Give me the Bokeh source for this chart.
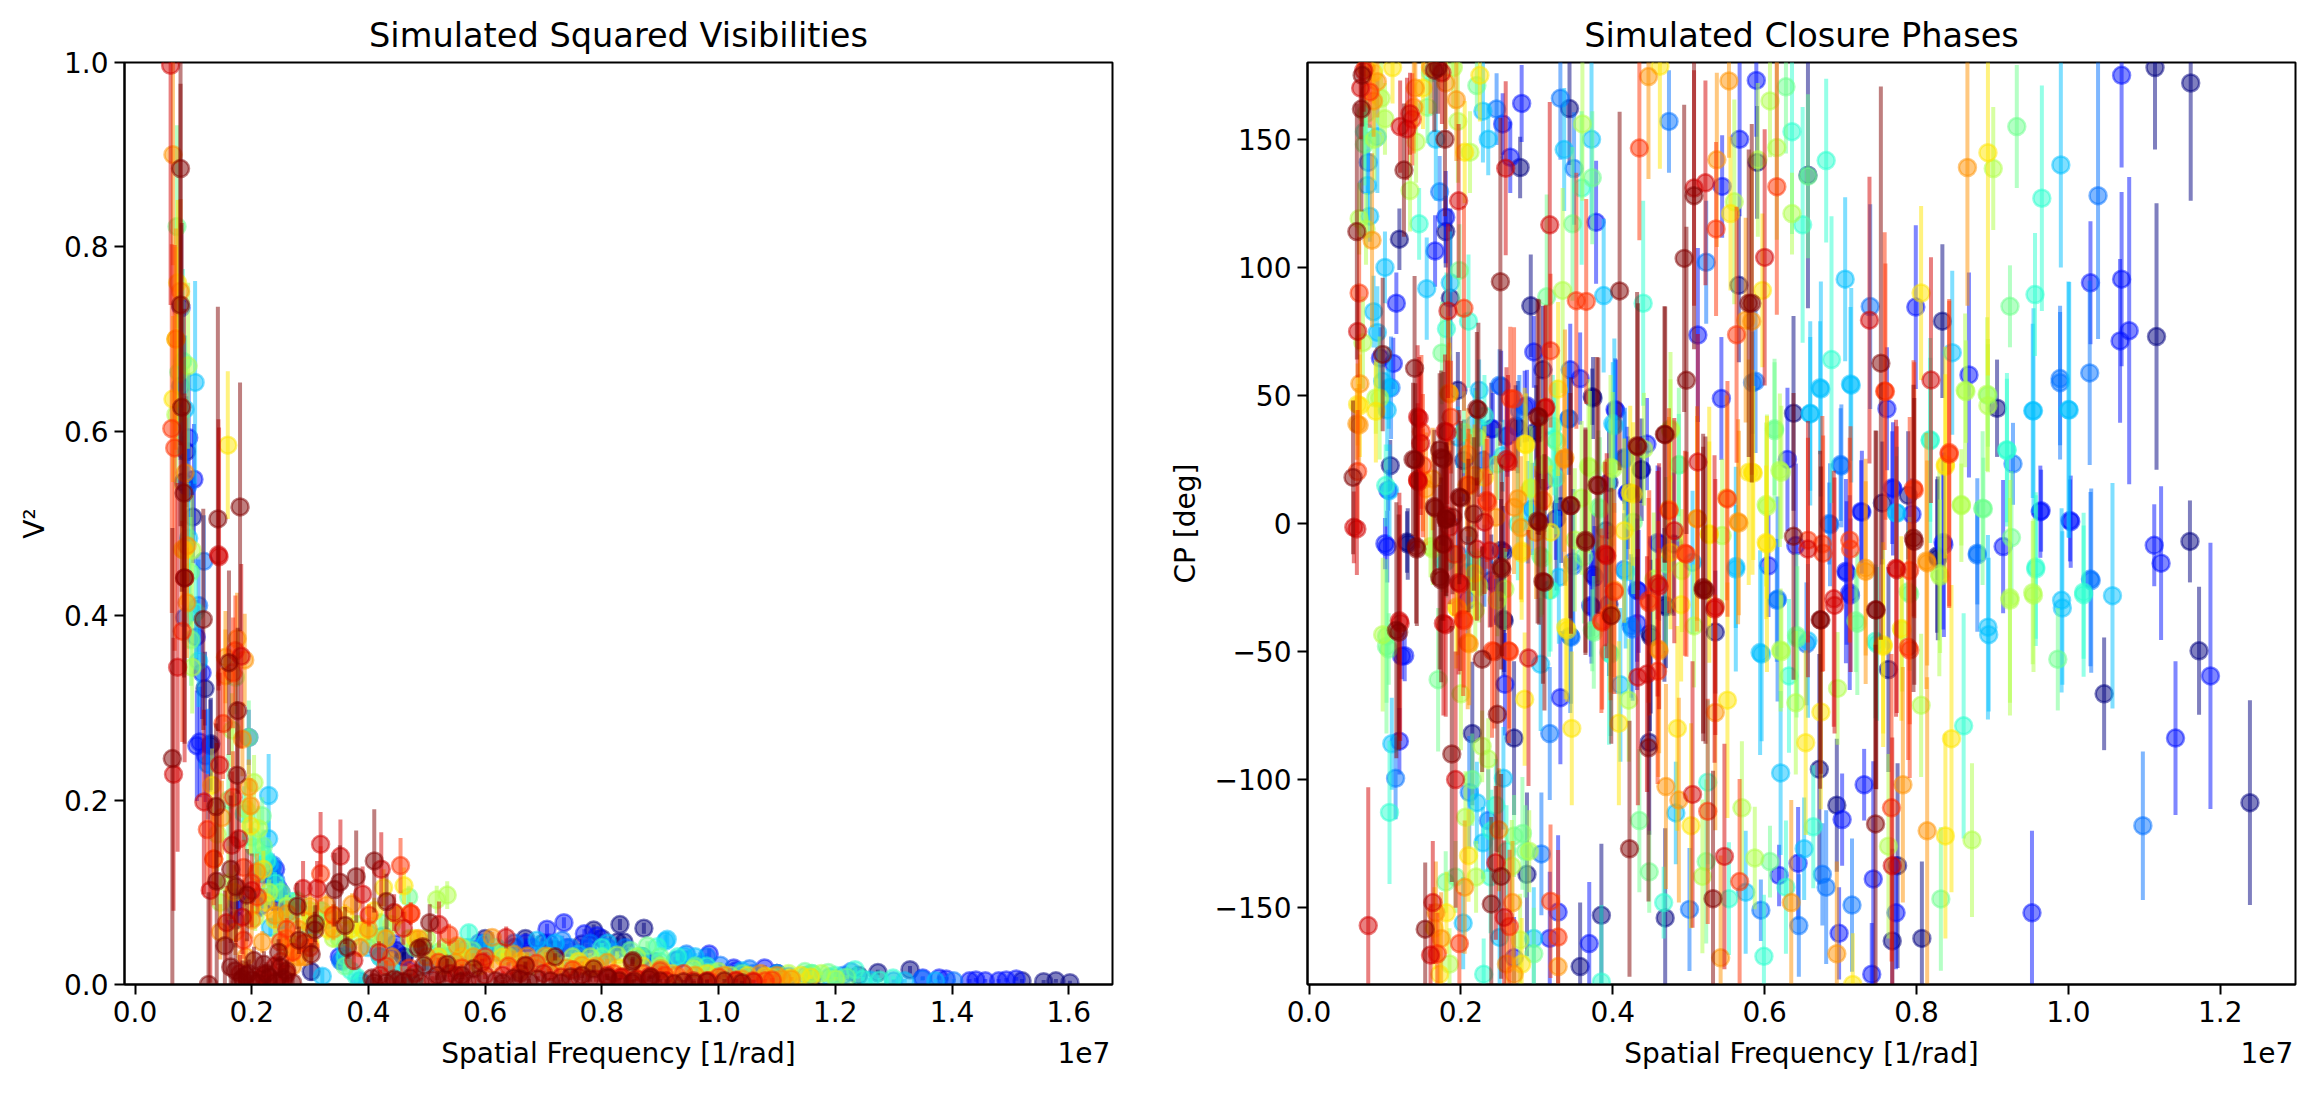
from bokeh.embed import file_html
from bokeh.layouts import row
from bokeh.models import FixedTicker, LinearAxis, NumeralTickFormatter, Range1d
from bokeh.plotting import figure
from bokeh.resources import INLINE

# points are (spatial frequency in 1e7 1/rad, value, error), one list per wavelength channel
vis_navy = [(.088,.578,.06),(.083,.545,.05),(.099,.507,.05),(.12,.321,.04),(.13,.261,.05),(.129,.259,.05),(.448,.037,.006),(.461,.03,.005),(.669,.05,.006),(.786,.059,.006),(.831,.065,.006),(.872,.061,.006),(.838,.046,.005),(.766,.044,.005),(.827,.046,.005),(.461,.03,.005),(.302,.014,.01),(1.328,.016,.004),(1.273,.013,.003),(1.557,.003,.002),(1.578,.004,.002),(1.602,.002,.002),(1.52,.004,.002),(.172,.07,.03),(.6,.036,.004),(.72,.038,.004),(.65,.04,.004),(.175,.09,.03),(.24,.09,.012),(.6,.05,.005),(.7,.045,.005),(.8,.05,.005),(.87,.03,.004),(1.16,.007,.002),(1.24,.01,.002),(1.1,.012,.002)]
vis_blue = [(.079,.734,.09),(.092,.593,.07),(.101,.548,.06),(.105,.377,.04),(.115,.338,.05),(.111,.263,.06),(.106,.259,.06),(.121,.248,.05),(.195,.268,.03),(.241,.125,.012),(.172,.084,.02),(.446,.044,.006),(.706,.06,.006),(.735,.067,.006),(.792,.053,.006),(.775,.039,.005),(.81,.04,.005),(.984,.033,.006),(1.378,.007,.002),(1.441,.005,.002),(1.457,.004,.002),(1.493,.005,.002),(1.51,.006,.002),(1.48,.004,.002),(1.079,.018,.003),(1.026,.018,.003),(.25,.1,.012),(.23,.118,.012),(.255,.09,.01),(.35,.03,.005),(.68,.04,.004),(.74,.04,.004),(.63,.035,.004),(.56,.03,.004),(.245,.105,.012),(.22,.12,.014),(.215,.085,.012),(.47,.015,.004),(.59,.045,.005),(.67,.045,.005),(.71,.045,.005),(.77,.055,.005),(.89,.025,.004),(1.03,.015,.003),(1.1,.012,.002),(1.43,.004,.002),(1.39,.006,.002),(1.35,.007,.002)]
vis_azure = [(.078,.649,.08),(.09,.54,.06),(.118,.459,.05),(.085,.398,.05),(.109,.411,.05),(.125,.239,.06),(.241,.113,.01),(.236,.13,.012),(.426,.053,.008),(.352,.026,.006),(.592,.04,.005),(.732,.048,.005),(.746,.04,.005),(.926,.026,.004),(.945,.033,.004),(.93,.027,.004),(.972,.022,.003),(1.003,.021,.003),(1.053,.017,.003),(1.403,.004,.002),(1.349,.006,.002),(1.227,.014,.003),(1.214,.01,.002),(.355,.025,.005),(.385,.004,.004),(.52,.03,.004),(.62,.035,.004),(.7,.037,.004),(.82,.035,.004),(.87,.03,.004),(.235,.125,.012),(.24,.1,.01),(.42,.03,.005),(.44,.02,.005),(.57,.04,.005),(.65,.045,.005),(.78,.045,.005),(.84,.04,.005),(.98,.03,.004),(1.06,.012,.002),(1.3,.004,.002),(1.12,.009,.002)]
vis_sky = [(.103,.653,.11),(.086,.624,.08),(.092,.484,.06),(.109,.351,.05),(.229,.205,.045),(.229,.158,.02),(.232,.062,.01),(.321,.009,.008),(.215,.125,.015),(.39,.002,.004),(.689,.048,.005),(.804,.031,.004),(.909,.047,.007),(.941,.031,.005),(.912,.049,.008),(1.319,.004,.002),(1.372,.004,.002),(.22,.095,.012),(.25,.07,.01),(.5,.02,.004),(.58,.03,.004),(.64,.036,.004),(.76,.033,.004),(1.1,.012,.002),(1.19,.008,.002),(.23,.13,.014),(.245,.1,.01),(.27,.08,.01),(.36,.04,.006),(.4,.04,.006),(.43,.02,.004),(.53,.03,.004),(.6,.045,.005),(.72,.045,.005),(.81,.045,.005),(.96,.03,.004),(1.04,.015,.003),(1.15,.01,.002),(1.26,.005,.002)]
vis_turq = [(.082,.676,.1),(.104,.404,.05),(.226,.134,.012),(.187,.185,.03),(.572,.056,.008),(.895,.041,.005),(.866,.031,.004),(1.234,.016,.003),(1.299,.007,.002),(1.247,.006,.002),(1.276,.005,.002),(.37,.015,.005),(.38,.008,.005),(.44,.015,.005),(.46,.01,.004),(.48,.008,.004),(.3,.06,.01),(.33,.07,.01),(.2,.16,.02),(.21,.12,.015),(.67,.025,.004),(.75,.02,.003),(.9,.025,.004),(1.1,.008,.002),(1.16,.012,.002),(.22,.14,.016),(.24,.11,.012),(.27,.09,.01),(.36,.03,.006),(.42,.03,.006),(.5,.035,.005),(.55,.04,.005),(.62,.04,.005),(.7,.03,.004),(.8,.04,.005),(.93,.03,.004),(.98,.02,.003),(1.2,.01,.002)]
vis_green = [(.072,.822,.11),(.075,.664,.09),(.095,.447,.06),(.096,.374,.05),(.172,.333,.04),(.195,.268,.04),(.218,.183,.02),(.204,.149,.018),(.421,.067,.01),(.469,.095,.012),(.578,.037,.005),(.849,.037,.004),(.878,.042,.005),(1.188,.013,.003),(1.148,.014,.003),(1.22,.008,.002),(.989,.013,.003),(.36,.02,.006),(.3,.075,.01),(.26,.07,.012),(.35,.05,.008),(.55,.02,.004),(.7,.022,.003),(1.08,.009,.002),(.22,.15,.018),(.25,.1,.012),(.28,.09,.012),(.32,.08,.01),(.4,.055,.008),(.43,.05,.008),(.48,.04,.006),(.52,.035,.005),(.58,.03,.004),(.64,.03,.004),(.72,.025,.004),(.8,.03,.004),(.9,.03,.004),(.96,.02,.003),(1.04,.012,.002),(1.16,.012,.002),(.16,.2,.05)]
vis_lime = [(.07,.618,.08),(.091,.671,.09),(.098,.471,.06),(.098,.344,.05),(.166,.276,.04),(.204,.219,.03),(.212,.169,.025),(.146,.089,.03),(.141,.163,.04),(.206,.073,.015),(.535,.097,.015),(.517,.092,.015),(.75,.03,.004),(.826,.032,.004),(.957,.017,.003),(1.176,.012,.002),(1.201,.006,.002),(1.02,.01,.002),(.25,.05,.012),(.31,.065,.01),(.34,.05,.01),(.38,.065,.01),(.6,.028,.004),(.68,.02,.003),(1.09,.008,.002),(.16,.11,.04),(.19,.19,.03),(.23,.1,.014),(.26,.085,.012),(.3,.08,.012),(.33,.075,.01),(.37,.05,.008),(.41,.05,.008),(.44,.065,.01),(.47,.05,.008),(.5,.05,.008),(.53,.04,.006),(.56,.04,.005),(.63,.035,.004),(.71,.03,.004),(.78,.03,.004),(.86,.03,.004),(.9,.02,.003),(1.0,.014,.002),(1.12,.012,.002)]
vis_yellow = [(.073,.761,.09),(.07,.70,.1),(.065,.635,.09),(.159,.585,.08),(.081,.472,.06),(.084,.471,.06),(.132,.216,.04),(.198,.172,.03),(.224,.089,.015),(.426,.105,.02),(.461,.107,.02),(.392,.059,.012),(.33,.06,.012),(.36,.075,.012),(.27,.04,.012),(.29,.07,.012),(.56,.03,.005),(.63,.03,.004),(1.158,.008,.002),(1.141,.01,.002),(1.122,.007,.002),(.78,.018,.003),(.92,.012,.002),(.24,.07,.014),(.26,.04,.012),(.3,.045,.01),(.34,.075,.012),(.37,.06,.01),(.41,.08,.014),(.45,.075,.012),(.48,.05,.008),(.52,.03,.005),(.59,.02,.004),(.66,.025,.004),(.72,.02,.003),(.76,.025,.004),(.83,.018,.003),(.87,.02,.003),(.98,.012,.002),(1.05,.01,.002),(1.08,.009,.002),(.17,.1,.03),(.2,.085,.02),(.22,.125,.02)]
vis_orange = [(.065,.90,.12),(.078,.752,.1),(.07,.70,.12),(.086,.555,.08),(.089,.476,.07),(.089,.414,.06),(.175,.375,.05),(.155,.355,.05),(.188,.352,.05),(.155,.335,.05),(.184,.266,.04),(.195,.214,.03),(.198,.194,.03),(.149,.181,.04),(.135,.136,.04),(.209,.122,.02),(.146,.057,.03),(.172,.057,.025),(.218,.046,.012),(.261,.077,.014),(.328,.086,.012),(.372,.087,.012),(.386,.04,.01),(.486,.05,.008),(.552,.042,.006),(.612,.051,.006),(.612,.022,.004),(.649,.033,.004),(.672,.031,.004),(.704,.031,.004),(.766,.021,.004),(.809,.024,.004),(.901,.017,.003),(1.072,.012,.002),(1.109,.006,.002),(1.125,.006,.002),(.928,.01,.002),(1.01,.01,.002),(.28,.03,.01),(.27,.02,.01),(.549,.024,.004),(.44,.03,.006),(.5,.03,.005),(.53,.02,.004),(.58,.03,.004),(.66,.015,.003),(.74,.018,.003),(.79,.02,.003),(.85,.012,.002),(.96,.01,.002),(1.04,.006,.002),(1.1,.01,.002),(.3,.085,.014),(.34,.06,.012),(.29,.03,.01),(.26,.05,.012),(.24,.075,.014),(.28,.06,.012),(.4,.06,.012),(.43,.05,.01),(.19,.03,.02),(.2,.07,.02)]
vis_redorange = [(.063,.603,.2),(.068,.582,.22),(.081,.383,.12),(.172,.362,.06),(.168,.338,.06),(.151,.283,.06),(.168,.203,.05),(.124,.168,.06),(.135,.136,.05),(.186,.127,.03),(.186,.048,.02),(.455,.129,.03),(.318,.12,.03),(.473,.077,.012),(.401,.075,.012),(.249,.046,.012),(.472,.077,.012),(.538,.054,.012),(.688,.023,.004),(.9,.015,.003),(1.059,.004,.002),(1.092,.005,.002),(.984,.004,.002),(.908,.01,.002),(.2,.11,.02),(.21,.095,.018),(.25,.025,.01),(.29,.045,.01),(.34,.075,.012),(.43,.02,.006),(.47,.018,.005),(.52,.024,.005),(.56,.018,.004),(.6,.03,.005),(.64,.02,.004),(.67,.02,.004),(.71,.014,.003),(.75,.016,.003),(.82,.012,.003),(.87,.012,.003),(.94,.012,.002),(1.0,.008,.002),(1.03,.005,.002),(1.08,.004,.002),(.27,.035,.01),(.3,.04,.01),(.26,.06,.012)]
vis_red = [(.061,.997,.26),(.143,.466,.147),(.144,.464,.14),(.085,.441,.2),(.182,.356,.1),(.073,.344,.2),(.066,.228,.148),(.145,.238,.1),(.118,.198,.1),(.178,.158,.06),(.166,.151,.08),(.129,.102,.1),(.2,.102,.04),(.318,.152,.035),(.352,.139,.04),(.422,.125,.04),(.288,.104,.03),(.312,.104,.03),(.39,.098,.03),(.444,.078,.02),(.184,.073,.04),(.157,.067,.04),(.46,.061,.018),(.418,.035,.012),(.375,.026,.01),(.215,.006,.012),(.521,.065,.025),(.636,.051,.012),(.595,.024,.004),(.832,.008,.003),(.836,.008,.002),(.882,.009,.002),(.809,.01,.002),(.957,.004,.002),(1.03,.004,.002),(.24,.02,.01),(.26,.012,.01),(.55,.01,.004),(.7,.012,.003),(.76,.008,.003),(.18,.012,.02),(.22,.01,.012),(.23,.002,.012),(.25,.004,.01),(.42,.01,.006),(.45,.004,.005),(.48,.012,.005),(.51,.005,.004),(.54,.012,.004),(.57,.004,.004),(.6,.01,.004),(.63,.01,.004),(.66,.012,.003),(.73,.008,.003),(.79,.006,.003),(.86,.006,.002),(.91,.004,.002),(.98,.004,.002),(1.06,.003,.002)]
vis_darkred = [(.078,.885,.3),(.078,.737,.24),(.08,.626,.2),(.084,.533,.2),(.18,.518,.135),(.142,.505,.23),(.085,.441,.18),(.117,.396,.12),(.161,.349,.1),(.176,.297,.09),(.064,.245,.25),(.175,.227,.08),(.139,.193,.09),(.164,.125,.08),(.41,.134,.056),(.379,.117,.05),(.351,.111,.04),(.14,.112,.15),(.173,.106,.06),(.192,.097,.05),(.342,.103,.04),(.278,.085,.025),(.431,.09,.03),(.309,.066,.02),(.308,.059,.02),(.36,.064,.02),(.154,.042,.06),(.281,.048,.015),(.246,.035,.014),(.302,.033,.012),(.364,.04,.012),(.164,.019,.03),(.172,.015,.03),(.204,.026,.015),(.221,.022,.014),(.249,.019,.012),(.126,.0,.1),(.184,.006,.02),(.255,.006,.012),(.19,.01,.015),(.2,.005,.012),(.23,.008,.012),(.406,.007,.008),(.444,.006,.008),(.486,.039,.008),(.505,.067,.02),(.493,.041,.008),(.495,.021,.006),(.535,.022,.006),(.58,.017,.005),(.669,.021,.004),(.72,.03,.004),(.786,.017,.004),(.852,.024,.004),(.472,.007,.005),(.518,.01,.005),(.558,.003,.004),(.618,.004,.004),(.649,.007,.004),(.675,.003,.003),(.712,.004,.003),(.746,.008,.003),(.766,.01,.003),(.809,.008,.003),(.852,.002,.003),(.881,.006,.003),(.924,.001,.002),(.958,.002,.002),(.853,.026,.004),(.855,.004,.002),(.884,.008,.002),(1.01,.004,.002),(.811,.007,.002),(.18,.003,.015),(.195,.012,.015),(.21,.002,.012),(.225,.012,.012),(.24,.002,.012),(.26,.015,.012),(.27,.002,.01),(.41,.002,.006),(.43,.002,.006),(.46,.003,.005),(.49,.002,.005),(.53,.006,.004),(.56,.01,.004),(.59,.006,.004),(.63,.002,.003),(.66,.006,.003),(.69,.006,.003),(.73,.002,.003),(.78,.006,.003),(.83,.004,.003),(.9,.004,.002),(.94,.003,.002),(.98,.003,.002),(1.04,.002,.002)]

cp_navy = [(.119,111,12),(.18,114,14),(.278,139,12),(.292,85,20),(.373,49.5,11),(.437,21,13),(.343,162,22),(.107,22.6,10),(.308,60,25),(.299,36,18),(.395,16,20),(.24,37,18),(.272,38,16),(.566,93,30),(.186,88,35),(.129,-7.2,12),(.253,-10.4,20),(.256,-37.4,22),(.215,-82,28),(.27,-83.8,30),(.287,-137,32),(.385,-153,28),(.469,-154,35),(.357,-173,25),(.535,-42.4,24),(.468,-31.8,30),(.395,-31.5,28),(.448,-85.5,36),(.449,-43,38),(.374,-20,24),(1.161,172,46),(1.114,178,32),(1.116,73,52),(.834,79,30),(.906,45,19),(.657,136,52),(.638,43,38),(.59,141,22),(.789,11,25),(.755,8,24),(1.16,-7,16),(1.172,-49.7,25),(1.047,-66.5,22),(1.239,-109,40),(.672,-96,45),(.695,-110,26),(.763,-57,40),(.775,-133.6,40),(.768,-163,36),(.807,-162,30),(.827,-12.7,30),(.13,-8,14),(.275,37.6,18),(.301,35.2,22),(.374,49,16),(.438,21,20),(.332,6.6,22),(.256,-11.2,18),(.257,-38,20),(.326,1.8,28),(.391,-2.8,22),(.47,-32.5,24),(.45,-44.2,30),(.24,-22.3,18),(.204,24.6,16),(.196,52,15),(.48,-8,28),(.828,-13.6,32)]
cp_blue = [(.28,164,15),(.255,156,12),(.265,143,14),(.18,119.6,18),(.166,106.4,14),(.115,86,12),(.378,117.6,24),(.357,56.6,18),(.403,44.5,20),(.543,48.8,24),(.512,73.6,34),(.567,150,30),(.544,131.6,20),(.296,67,14),(.344,60,18),(.284,45.6,14),(.094,64.6,12),(.111,62.5,10),(.261,34,14),(.104,13,8),(.42,12,22),(.1,-7.9,10),(.122,-51.8,9),(.459,-7.4,30),(.119,-85,13),(.258,-62.8,20),(.331,-68,26),(.371,-32,20),(.432,-26,28),(.328,-151.7,30),(.369,-164,24),(.27,-169.6,16),(.317,-162,26),(.589,173,22),(1.07,175,36),(1.029,94,24),(1.07,95.4,34),(1.068,71.3,32),(1.08,75.3,60),(.799,84.5,32),(.869,58,40),(.761,44.8,24),(.768,14,22),(.727,4.7,20),(.964,5,16),(1.002,1.2,16),(.794,3.6,14),(.63,25,28),(1.113,-8.5,16),(1.122,-15.5,30),(1.187,-59.5,52),(1.141,-83.8,30),(.952,-152,32),(.731,-102,14),(.702,-115.6,18),(.743,-138.8,46),(.773,-152,22),(.698,-160,18),(.741,-176,20),(.707,-18.6,36),(.712,-27,38),(.641,-8.6,32),(.914,-9,26),(.605,-16.5,20),(.835,-7.4,34),(.619,-137.4,12),(.644,-132.7,22),(.103,-9,14),(.287,46,14),(.261,34.3,16),(.242,37,14),(.404,44,20),(.445,31,18),(.434,-26.5,24),(.246,-23.6,16),(.209,-30,14),(.376,-21,20),(.372,-32.7,22),(.419,11.8,26),(.461,-8,30),(.432,-39,26),(.31,16.7,20),(.253,53.5,14),(.325,1.8,16),(.126,-51.6,10),(.713,-28,30),(.708,-19.3,28),(.769,13.5,26),(.728,4.4,24),(.836,-8.3,36),(.963,4.6,18),(1.003,.7,18)]
cp_azure = [(.331,166,24),(.474,157,20),(.523,102,24),(.342,41,22),(.349,138.6,22),(.172,129.5,14),(.415,25.7,18),(.251,54,14),(.078,141,12),(.247,161.8,14),(.588,55.5,28),(.739,84.7,40),(.7,23,22),(1.039,128,56),(.989,56.6,26),(1.028,58.8,36),(.927,23.3,16),(.685,0,16),(1.029,-21.7,34),(.88,-11.6,20),(.616,-30,24),(.655,-47,24),(.676,-137,20),(.681,-142,30),(.715,-149,26),(.645,-157,20),(.595,-151,12),(1.098,-118,29),(.347,-15,24),(.415,-18,22),(.317,-82,26),(.211,-105,22),(.114,-99.5,16),(.236,-116,20),(.306,-129,24),(.501,-150.7,24),(.424,-40,28),(.344,-44,30),(.108,53,20),(.342,40.8,16),(.416,25.2,20),(.348,-16.5,30),(.426,-41.2,28),(.229,24.6,16),(.196,-12,14),(.277,44,14),(.294,5.7,18),(.231,-16.5,16),(.345,-44.4,26),(.617,-29.5,40),(.701,22.5,24),(.686,-.5,24),(.88,-12.3,30),(1.03,-22.3,36),(.989,55,30),(.584,55,20)]
cp_sky = [(.155,91.7,20),(.077,132,14),(.236,150,14),(.336,146,24),(.372,150,30),(.388,89,30),(.4,39,24),(.167,150,24),(.229,161,20),(.186,94,20),(.105,53,16),(.097,55.5,14),(.09,74.6,18),(.085,82.7,14),(.09,151,22),(.99,140,40),(.706,95.4,32),(.713,54.5,30),(.953,44,34),(1.0,44.5,50),(.673,53,26),(.66,43,36),(.847,66.7,32),(.773,4.3,22),(1.058,-28.2,44),(.991,-30,36),(.894,-40.5,36),(.594,-50.4,40),(.621,-97.4,32),(.652,-127,20),(.562,-16.8,24),(.305,-55,26),(.41,-63,30),(.109,-86,18),(.256,-99.5,20),(.221,-109,16),(.229,-124.7,14),(.203,-156,18),(.251,-161.6,22),(.296,-162,20),(.483,-113,20),(.575,-144,24),(.103,44.3,16),(.106,12.8,18),(.218,38.9,14),(.402,38.2,34),(.329,-21,26),(.417,-18.8,30),(.505,-15.2,28),(.288,4.4,20),(.255,26.5,14),(.196,33.7,12),(.209,-19,14),(.224,52,12),(.562,-17.8,40),(.774,4,26),(.674,52.5,42),(.714,54,38),(.66,42.8,30),(.657,-45.8,30),(.596,-51,34),(.895,-43.4,30),(.954,44,40),(1.001,44.3,50),(.992,-33,30),(.08,120,10),(.1,100,14)]
cp_turq = [(.073,153,14),(.145,117,14),(.181,76,22),(.21,79,26),(.359,131,30),(.44,86,40),(.323,33,22),(.636,153,40),(.681,141.7,32),(.65,116.6,46),(.965,127,44),(.956,89.4,24),(.688,64,56),(.818,32.7,32),(.919,28.8,30),(1.02,-26.8,26),(.957,-17,28),(.862,-79,44),(.632,-59.5,30),(.746,-46,30),(.664,-118.4,24),(.599,-169,24),(.628,-142,26),(.106,-112.8,28),(.395,-50.4,36),(.385,-179,30),(.316,-26,26),(.467,-148,14),(.525,-101,32),(.553,-146.5,22),(.239,-138,22),(.246,-110,18),(.176,-14.7,12),(.101,14.8,16),(.321,38,20),(.318,-26,24),(.325,17.8,22),(.487,22.8,20),(.397,-51,32),(.388,-9.3,24),(.18,-15,14),(.213,-14.5,14),(.231,42,16),(.275,-.2,22),(.748,-47,30),(.818,32.4,40),(.957,-17.8,30),(1.02,-27.8,32),(.919,28.5,28),(.16,176,10),(.24,-120,16),(.26,-128,18),(.23,-176,14)]
cp_green = [(.221,171,10),(.156,162.5,14),(.347,117,30),(.198,98.8,18),(.175,66.6,20),(.313,88.5,40),(.373,135,26),(.308,23,26),(.487,23,30),(.381,6.3,30),(.22,33.8,18),(.073,148,16),(.628,170.5,26),(.932,155,24),(.923,84.8,16),(.613,37,26),(.887,6,30),(.657,135.6,32),(.986,-53,20),(.925,-5.5,26),(.72,-38,20),(.642,-43.7,32),(.789,-26.6,24),(.607,-132,14),(.832,-146.6,28),(.102,-48,34),(.17,-61,28),(.215,-100,18),(.193,-138,14),(.435,-116,28),(.448,-136,16),(.523,-132,32),(.373,-41.7,16),(.296,-168,18),(.281,-121,22),(.305,-12.6,24),(.102,-44,26),(.105,-49,14),(.31,22.8,26),(.326,32,24),(.383,5.7,28),(.427,.5,28),(.307,-13.6,22),(.362,-13,26),(.221,33.4,14),(.375,-42.5,22),(.47,-15.8,34),(.248,23.2,14),(.204,35.6,16),(.722,-39,28),(.643,-44.7,28),(.791,-27.5,30),(.888,5.7,20),(.894,50,20),(.613,36.3,28),(.075,160,12),(.27,-122,16),(.285,-128,18),(.18,-140,12)]
cp_lime = [(.095,166,14),(.36,156,30),(.133,130,16),(.066,119,14),(.334,91,40),(.071,70.6,18),(.088,49,14),(.368,22.4,34),(.397,22,36),(.56,125.6,40),(.196,157,24),(.141,149,16),(.212,145,16),(.476,37,30),(.292,14,24),(.616,146.8,36),(.607,165,22),(.901,138.6,24),(.636,121,16),(.864,52,30),(.893,50.5,30),(.602,7.4,32),(.859,7.4,16),(.62,20.8,30),(.591,142,30),(.923,-29,46),(.953,-27,28),(.83,-19.6,40),(.696,-64.4,22),(.641,-70,28),(.806,-71,28),(.873,-123.6,30),(.763,-126,36),(.621,-49.4,24),(.587,-130.6,20),(.097,-43.4,30),(.2,-66.5,22),(.421,-69,24),(.206,-114.7,18),(.228,-87,14),(.236,-92,16),(.518,-137.8,30),(.57,-111,26),(.278,-162.6,18),(.267,-133.8,18),(.22,-138,14),(.16,-9,12),(.222,-23.8,14),(.185,-172,14),(.093,49,24),(.163,-10,14),(.224,-24.7,14),(.258,-25.6,16),(.248,-30,14),(.219,-34,16),(.292,13.5,20),(.37,21.7,30),(.4,21.3,30),(.35,-6.4,28),(.359,10,30),(.476,36.3,20),(.454,-21.7,26),(.491,-18.4,24),(.441,29,22),(.507,-40,24),(.603,6.6,36),(.544,-4.7,30),(.622,20,26),(.622,-50,22),(.831,-20.6,30),(.781,-41.6,24),(.923,-30,40),(.954,-28,30),(.859,7,22),(.865,51.5,20),(.894,46,26),(.086,150,16),(.1,158,14),(.075,115,14),(.19,178,16),(.29,-128,16)]
cp_yellow = [(.462,178.5,40),(.555,121,30),(.328,52.5,34),(.205,145,20),(.184,51,30),(.064,46.5,16),(.284,31,22),(.423,12,34),(.579,20,44),(.894,144.8,87),(.597,91,30),(.806,90,34),(.838,23,46),(.584,20,40),(.602,-7.4,30),(.78,-41,36),(.756,-47.3,40),(.674,-73.6,38),(.654,-85.6,36),(.846,-84,60),(.838,-122,40),(.716,-180,20),(.284,-68.6,26),(.346,-80,30),(.408,-78,32),(.485,-80,40),(.551,-69,46),(.338,-40.6,28),(.194,-32.6,24),(.21,-129.7,18),(.503,-118,40),(.28,-10.7,20),(.181,-152,16),(.172,-176,16),(.067,46,20),(.088,43.8,20),(.231,18,20),(.286,30.8,20),(.28,-11.6,26),(.318,-3.4,26),(.427,11.5,28),(.415,-2.8,36),(.527,-4,36),(.476,-11.3,30),(.218,-19.5,18),(.196,-33.4,18),(.34,-41.6,28),(.49,-31.7,30),(.585,19.7,34),(.527,-4.4,50),(.603,-8,50),(.756,-48,34),(.838,22.3,36),(.085,176,12),(.11,178,14),(.15,170,16),(.225,175,18),(.165,-158,16),(.28,-172,18)]
cp_orange = [(.447,174.5,40),(.553,172.8,30),(.537,142,34),(.194,165.5,24),(.09,172.5,14),(.138,162.5,18),(.083,110.6,34),(.067,54.6,18),(.063,38.9,14),(.337,25.7,50),(.575,79.4,40),(.55,10,40),(.474,5.6,36),(.511,2,40),(.565,.7,40),(.275,9.7,24),(.208,15,18),(.15,17,20),(.867,139,54),(.583,79,60),(.733,-17.5,34),(.813,-14.6,50),(.782,-102,46),(.814,-120,60),(.695,-168,36),(.635,-148,40),(.46,-49,50),(.535,-73.8,46),(.47,-102.7,40),(.209,-46.5,26),(.487,-108,40),(.25,-119.6,24),(.205,-142,26),(.268,-148,24),(.174,-162,18),(.167,-152,20),(.328,-173,28),(.542,-169.6,40),(.26,-172,20),(.397,-35,34),(.402,-26,34),(.066,38.5,16),(.185,50.6,20),(.336,25,36),(.212,14.8,20),(.209,27,18),(.218,18.7,20),(.246,2.4,24),(.27,6.3,26),(.163,17.4,20),(.154,13.5,22),(.511,1.8,44),(.397,-36,30),(.299,-3.5,26),(.279,-1.7,28),(.308,9,30),(.461,-49.7,40),(.211,-47,24),(.566,.2,36),(.733,-18.7,44),(.814,-15.4,40),(.075,178,12),(.085,165,14),(.14,170,16),(.18,172,18),(.16,178,18),(.27,-176,20)]
cp_redorange = [(.435,146.6,36),(.536,115,34),(.066,90,22),(.365,86.7,40),(.352,87,50),(.204,84,40),(.318,67.5,30),(.265,48.8,28),(.563,73.7,50),(.08,168.5,14),(.136,157.8,18),(.148,35.8,30),(.143,17,26),(.21,15,22),(.234,9,24),(.616,131.5,50),(.758,51.7,62),(.843,27.7,60),(.796,13.7,50),(.712,-6.5,40),(.676,-8,50),(.789,-48.3,44),(.767,-111,60),(.657,-6.5,40),(.495,-11.6,40),(.447,-30,40),(.385,-38,36),(.203,-37.4,30),(.241,-49.7,34),(.263,-49.7,36),(.459,-57.7,44),(.318,-147.5,30),(.328,-161.5,34),(.264,-157.4,30),(.198,-164,20),(.567,-139.8,40),(.525,-112.4,44),(.169,-168,16),(.064,20.3,24),(.15,22.6,28),(.235,8.3,26),(.27,48.6,28),(.187,41.5,22),(.402,-26.6,40),(.474,5,40),(.448,-31,44),(.204,-38,26),(.386,-38.6,34),(.497,-12,40),(.244,-50,30),(.264,-50,30),(.191,-12,24),(.551,9.6,46),(.713,-10,48),(.759,51.5,50),(.677,-11.6,46),(.791,-18.4,60),(.791,-49.4,50),(.797,13,50),(.843,27,60)]
cp_red = [(.072,176.8,16),(.129,154,20),(.259,138.7,34),(.522,133,40),(.197,126,30),(.317,116.6,48),(.183,83,34),(.507,131,46),(.064,75,18),(.311,45,40),(.143,41.6,28),(.179,36,30),(.26,25,36),(.512,24,50),(.143,17,30),(.059,-1.5,14),(.181,3,30),(.6,103.9,50),(.738,79.4,56),(.819,56,48),(.691,-29.4,50),(.773,-17.5,58),(.768,-133.6,50),(.39,-11.9,36),(.459,-23.5,44),(.535,-32.6,50),(.119,-38,50),(.177,-39,36),(.197,-23,36),(.289,-52.5,50),(.433,-60,50),(.445,-58.8,46),(.193,-100,50),(.505,-105.8,52),(.547,-130,44),(.078,-157,54),(.163,-148,24),(.16,-168.5,20),(.257,-153.8,30),(.246,-132.5,30),(.145,41,24),(.147,31.3,28),(.144,16.3,26),(.182,35.6,28),(.262,24,34),(.312,45.4,40),(.063,-2.1,18),(.199,-23.6,34),(.18,-39.5,36),(.392,-12.6,40),(.481,-2.8,44),(.461,-24.5,48),(.231,.5,28),(.221,-10,28),(.185,-1.5,30),(.178,-8,30),(.238,-10.6,30),(.12,-38.9,46),(.534,-33.4,60),(.692,-32,50),(.657,-10,50),(.774,-18,56),(.175,176,20),(.068,170,20),(.12,155,18),(.133,160,16)]
cp_darkred = [(.069,161.8,40),(.125,138,26),(.179,150,30),(.165,177,24),(.063,114,50),(.494,103.5,60),(.409,90.8,70),(.252,94.4,64),(.139,60.6,36),(.497,55.9,60),(.507,128,60),(.221,44.8,30),(.301,41.8,46),(.468,34.8,50),(.432,30.4,60),(.137,25,30),(.174,25.7,34),(.058,18,30),(.379,15,50),(.198,10.3,34),(.165,6.6,30),(.344,7,44),(.181,1.6,30),(.301,1,40),(.579,86,60),(.097,66,30),(.753,62.6,108),(.583,86,70),(.638,-5,56),(.796,-5.8,60),(.673,-37.6,66),(.746,-33.7,70),(.746,-117.3,70),(.141,-9,30),(.172,-21,36),(.253,-17,40),(.308,-22.6,40),(.364,-6.5,44),(.398,-36,50),(.519,-25,60),(.115,-41.7,50),(.228,-53,44),(.248,-74.5,54),(.447,-87.6,60),(.188,-90,50),(.422,-127,50),(.532,-146.5,50),(.24,-148.6,34),(.153,-158.4,26),(.253,-137.8,40),(.166,6,26),(.18,1.8,30),(.2,10,30),(.217,3.7,30),(.21,-4.7,30),(.176,-8,30),(.254,-17.8,34),(.31,-23,50),(.345,7,50),(.381,14.8,50),(.433,30,56),(.469,34.7,50),(.364,-7.3,44),(.303,.5,40),(.142,-10,30),(.174,-22,40),(.118,-42.5,46),(.519,-26,56),(.303,41.5,46),(.223,44.4,34),(.14,24.8,30),(.177,25.2,34),(.172,28.7,30),(.189,2.4,30),(.522,-26,60),(.674,-37.7,60),(.747,-33.8,70),(.797,-7,56),(.07,175,20),(.17,178,18)]

vis_xticks = [0.0, 0.2, 0.4, 0.6, 0.8, 1.0, 1.2, 1.4, 1.6]
vis_yticks = [0.0, 0.2, 0.4, 0.6, 0.8, 1.0]
cp_xticks = [0.0, 0.2, 0.4, 0.6, 0.8, 1.0, 1.2]
cp_yticks = [-150, -100, -50, 0, 50, 100, 150]

colors = ["#00007f", "#0010ff", "#0070ff", "#00bfff", "#2bffd0", "#6bff8c", "#b0ff47", "#ffe600", "#ff9100", "#ff3000", "#d40000", "#7f0000"]
vis_channels = [vis_navy, vis_blue, vis_azure, vis_sky, vis_turq, vis_green, vis_lime, vis_yellow, vis_orange, vis_redorange, vis_red, vis_darkred]
cp_channels = [cp_navy, cp_blue, cp_azure, cp_sky, cp_turq, cp_green, cp_lime, cp_yellow, cp_orange, cp_redorange, cp_red, cp_darkred]


def make_panel(title, ylabel, channels, xlim, ylim, xticks, yticks, borders):
    p = figure(width=borders[0] + borders[1] + 988, height=borders[2] + borders[3] + 922,
               x_range=Range1d(*xlim), y_range=Range1d(*ylim),
               output_backend="svg", toolbar_location=None,
               min_border_left=borders[0], min_border_right=borders[1],
               min_border_top=borders[2], min_border_bottom=borders[3])
    for rows, color in zip(channels, colors):
        xs = [r[0] for r in rows]
        ys = [r[1] for r in rows]
        errs = [r[2] for r in rows]
        p.segment(xs, [y - e for y, e in zip(ys, errs)], xs, [y + e for y, e in zip(ys, errs)],
                  line_color=color, line_alpha=0.5, line_width=4)
        p.scatter(xs, ys, size=17, fill_color=color, fill_alpha=0.5,
                  line_color=color, line_alpha=0.5, line_width=2.5)

    p.title.text = title
    p.title.align = "center"
    p.title.text_font = "DejaVu Sans"
    p.title.text_font_size = "33.6px"
    p.title.text_font_style = "normal"
    p.title.text_color = "black"
    p.title.standoff = 16

    p.xgrid.visible = False
    p.ygrid.visible = False
    p.outline_line_color = "black"
    p.outline_line_width = 2
    p.outline_line_alpha = 1

    p.yaxis.axis_label = ylabel
    p.xaxis.ticker = FixedTicker(ticks=xticks)
    p.yaxis.ticker = FixedTicker(ticks=yticks)
    p.xaxis.formatter = NumeralTickFormatter(format="0.0")
    for ax in [p.xaxis[0], p.yaxis[0]]:
        ax.axis_label_text_font = "DejaVu Sans"
        ax.axis_label_text_font_size = "28px"
        ax.axis_label_text_font_style = "normal"
        ax.axis_label_text_color = "black"
        ax.major_label_text_font = "DejaVu Sans"
        ax.major_label_text_font_size = "28px"
        ax.major_label_text_color = "black"
        ax.major_tick_line_color = "black"
        ax.major_tick_line_width = 2
        ax.major_tick_in = 0
        ax.major_tick_out = 10
        ax.minor_tick_line_color = None
        ax.axis_line_color = "black"
        ax.axis_line_width = 2
        ax.major_label_standoff = 6
    p.yaxis[0].axis_label_standoff = 10
    p.yaxis.major_label_orientation = "horizontal"

    # second row under the tick labels holds the axis title and the 1e7 offset on one line
    mid = round((xlim[0] + xlim[1]) / 2, 4)
    offset_at = round(xlim[1] - 0.029 * (xlim[1] - xlim[0]), 4)
    label_row = LinearAxis(ticker=FixedTicker(ticks=[mid, offset_at]),
                           major_label_overrides={mid: "Spatial Frequency [1/rad]", offset_at: "1e7"},
                           axis_line_color=None, major_tick_line_color=None, minor_tick_line_color=None,
                           major_label_standoff=6, major_label_text_font="DejaVu Sans",
                           major_label_text_font_size="28px", major_label_text_color="black")
    p.add_layout(label_row, "below")
    return p


left = make_panel("Simulated Squared Visibilities", "V²", vis_channels, (-0.018, 1.675), (0, 1),
                  vis_xticks, vis_yticks, (124, 30, 62, 100))
left.yaxis.formatter = NumeralTickFormatter(format="0.0")

right = make_panel("Simulated Closure Phases", "CP [deg]", cp_channels, (-0.002, 1.299), (-180, 180),
                   cp_xticks, cp_yticks, (165, 20, 62, 100))
right.yaxis.major_label_overrides = {t: str(t).replace("-", "\u2212") for t in cp_yticks}

page = row(left, right)
open("out.html", "w").write(file_html(page, INLINE))
